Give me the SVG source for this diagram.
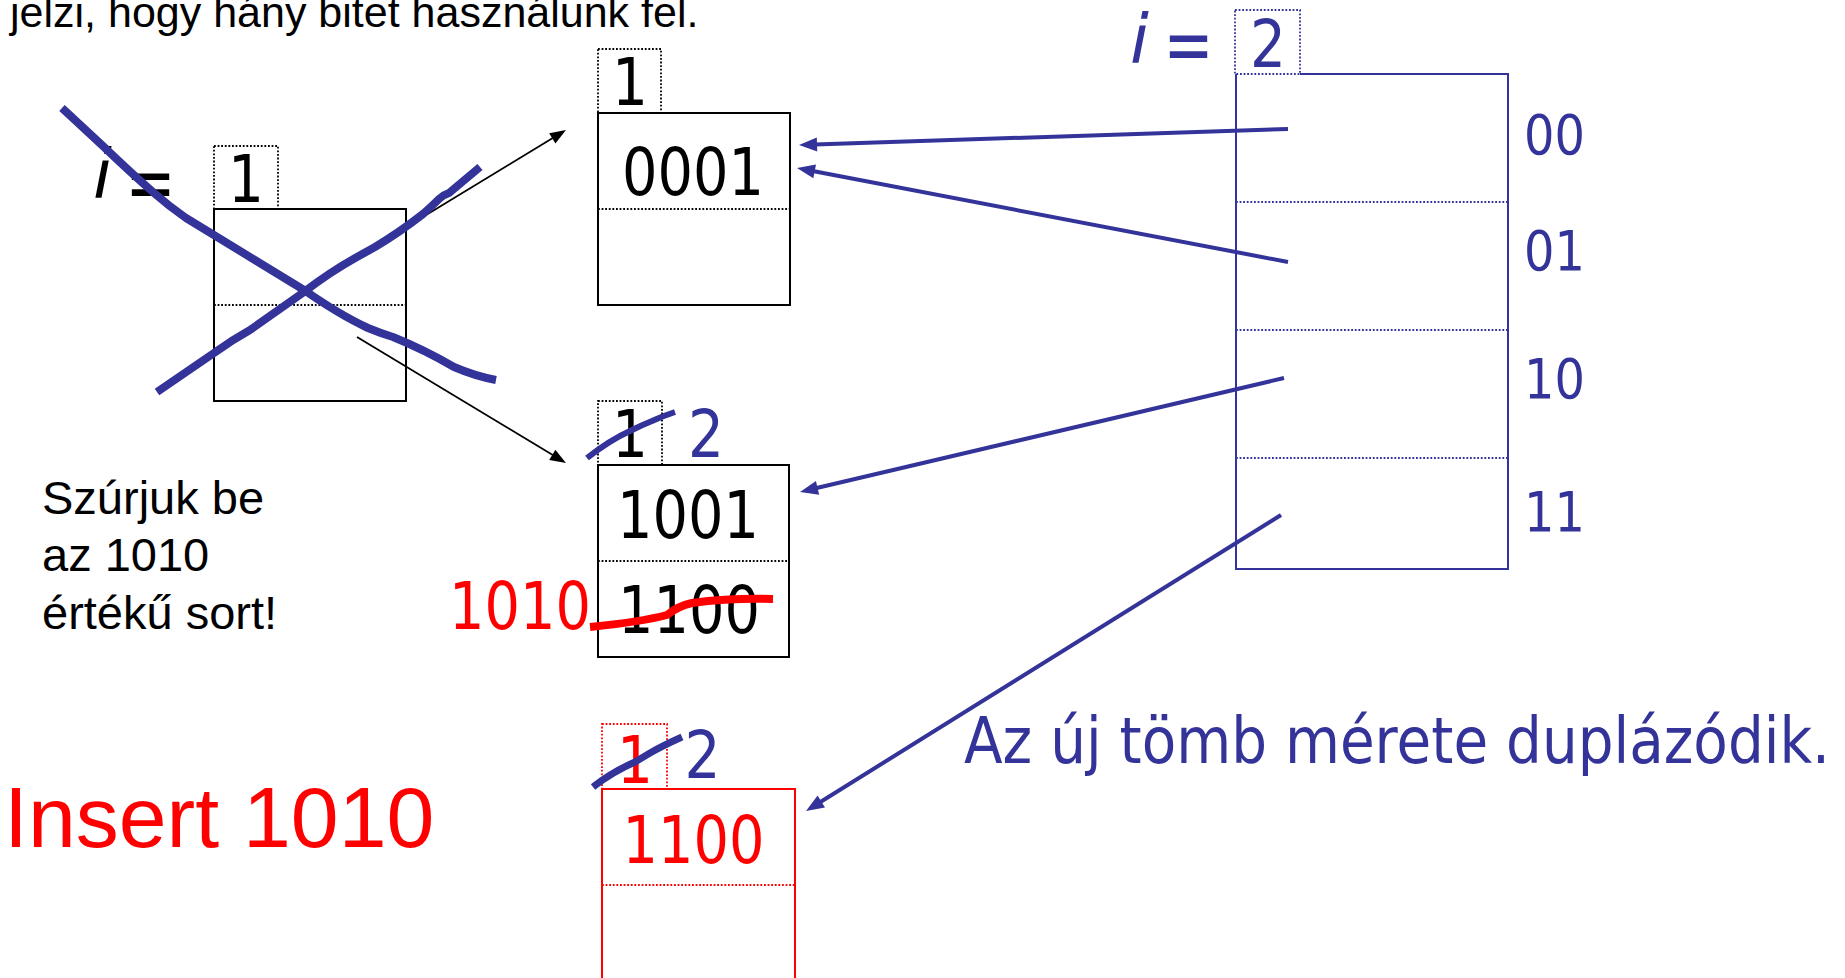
<svg xmlns="http://www.w3.org/2000/svg" width="1845" height="978" viewBox="0 0 1845 978">
<style>
.t{font-family:"DejaVu Sans",Verdana,sans-serif;}
.a{font-family:"Liberation Sans",Arial,sans-serif;}
.k{fill:#000}
.b{fill:#333399}
.r{fill:#ff0000}
.box{fill:none;stroke:#000;stroke-width:2}
.dot{fill:none;stroke:#000;stroke-width:1.8;stroke-dasharray:1.8 1.8}
.bbox{fill:none;stroke:#333399;stroke-width:2}
.bdot{fill:none;stroke:#333399;stroke-width:1.8;stroke-dasharray:1.8 1.8}
.rbox{fill:none;stroke:#ff0000;stroke-width:2}
.rdot{fill:none;stroke:#ff0000;stroke-width:1.8;stroke-dasharray:1.8 1.8}
.ba{stroke:#333399;stroke-width:4;fill:none;marker-end:url(#bh)}
.ka{stroke:#000;stroke-width:1.8;fill:none;marker-end:url(#kh)}
.bs{fill:none;stroke:#333399;stroke-linecap:butt;stroke-linejoin:round}
.rs{fill:none;stroke:#ff0000;stroke-width:8;stroke-linecap:butt;stroke-linejoin:round}
</style>
<defs>
<marker id="bh" markerUnits="userSpaceOnUse" markerWidth="18" markerHeight="14" refX="2" refY="7" orient="auto" overflow="visible"><path d="M0,0 L18,7 L0,14 z" fill="#333399"/></marker>
<marker id="kh" markerUnits="userSpaceOnUse" markerWidth="16" markerHeight="12" refX="2" refY="6" orient="auto" overflow="visible"><path d="M0,0 L16,6 L0,12 z" fill="#000"/></marker>
</defs>

<g id="top-note">
<text class="a k" x="10" y="27" font-size="43">jelzi, hogy hány bitet használunk fel.</text>
</g>

<g id="old-bucket">
<text class="t k" x="93" y="198" font-size="68" font-style="italic">i</text>
<text class="t k" x="150.5" y="209.5" font-size="80" text-anchor="middle" textLength="50" lengthAdjust="spacingAndGlyphs">=</text>
<rect class="dot" x="214" y="146" width="64" height="63"/>
<text class="t k" x="246" y="202" font-size="65" text-anchor="middle" textLength="36" lengthAdjust="spacingAndGlyphs">1</text>
<rect class="box" x="214" y="209" width="192" height="192"/>
<line class="dot" x1="214" y1="305" x2="406" y2="305"/>
</g>

<g id="bucket-0001">
<rect class="dot" x="598" y="49" width="63" height="64"/>
<text class="t k" x="630" y="105" font-size="65" text-anchor="middle" textLength="36" lengthAdjust="spacingAndGlyphs">1</text>
<rect class="box" x="598" y="113" width="192" height="192"/>
<line class="dot" x1="598" y1="209" x2="790" y2="209"/>
<text class="t k" x="693" y="195" font-size="65" text-anchor="middle" textLength="142" lengthAdjust="spacingAndGlyphs">0001</text>
</g>

<g id="bucket-1001">
<rect class="dot" x="598" y="401" width="64" height="64"/>
<text class="t k" x="630" y="457" font-size="65" text-anchor="middle" textLength="36" lengthAdjust="spacingAndGlyphs">1</text>
<text class="t b" x="706" y="457" font-size="65" text-anchor="middle" textLength="36" lengthAdjust="spacingAndGlyphs">2</text>
<rect class="box" x="598" y="465" width="191" height="192"/>
<line class="dot" x1="598" y1="561" x2="789" y2="561"/>
<text class="t k" x="688" y="538" font-size="65" text-anchor="middle" textLength="142" lengthAdjust="spacingAndGlyphs">1001</text>
<text class="t k" x="689" y="633" font-size="65" text-anchor="middle" textLength="142" lengthAdjust="spacingAndGlyphs">1100</text>
<text class="t r" x="520" y="629" font-size="65" text-anchor="middle" textLength="142" lengthAdjust="spacingAndGlyphs">1010</text>
<path class="bs" stroke-width="6" d="M587,458 Q610,440 630,431 Q642,425 652,421 Q663,416 675,412"/>
<path class="rs" d="M590,627 Q640,622 667,615 Q678,606 692,603 Q730,598 773,599"/>
</g>

<g id="bucket-1100-new">
<rect class="rdot" x="602" y="724" width="65" height="65"/>
<text class="t r" x="635" y="783" font-size="65" text-anchor="middle" textLength="36" lengthAdjust="spacingAndGlyphs">1</text>
<text class="t b" x="702.5" y="778" font-size="65" text-anchor="middle" textLength="36" lengthAdjust="spacingAndGlyphs">2</text>
<rect class="rbox" x="602" y="789" width="193" height="210"/>
<line class="rdot" x1="602" y1="885" x2="795" y2="885"/>
<text class="t r" x="693.5" y="863" font-size="65" text-anchor="middle" textLength="142" lengthAdjust="spacingAndGlyphs">1100</text>
<path class="bs" stroke-width="7" d="M593,787 Q612,772 635,762 Q645,756 650,753 Q662,746 682,737"/>
</g>

<g id="directory">
<text class="t b" x="1130" y="63" font-size="68" font-style="italic">i</text>
<text class="t b" x="1188.5" y="72" font-size="80" text-anchor="middle" textLength="50" lengthAdjust="spacingAndGlyphs">=</text>
<rect class="bdot" x="1235" y="10" width="65" height="64"/>
<text class="t b" x="1268" y="67" font-size="65" text-anchor="middle" textLength="36" lengthAdjust="spacingAndGlyphs">2</text>
<path class="bbox" d="M1300,74 H1508 V569 H1236 V74"/>
<line class="bdot" x1="1236" y1="202" x2="1508" y2="202"/>
<line class="bdot" x1="1236" y1="330" x2="1508" y2="330"/>
<line class="bdot" x1="1236" y1="458" x2="1508" y2="458"/>
<text class="t b" x="1524" y="154" font-size="56" textLength="61" lengthAdjust="spacingAndGlyphs">00</text>
<text class="t b" x="1524" y="270" font-size="56" textLength="61" lengthAdjust="spacingAndGlyphs">01</text>
<text class="t b" x="1524" y="398" font-size="56" textLength="61" lengthAdjust="spacingAndGlyphs">10</text>
<text class="t b" x="1524" y="531" font-size="56" textLength="61" lengthAdjust="spacingAndGlyphs">11</text>
</g>

<g id="notes">
<text class="a k" x="42" y="514" font-size="47">Szúrjuk be</text>
<text class="a k" x="42" y="571" font-size="47">az 1010</text>
<text class="a k" x="42" y="629" font-size="47">értékű sort!</text>
<text class="a r" x="4" y="847" font-size="86">Insert 1010</text>
<text class="t b" x="964" y="763" font-size="64" textLength="866" lengthAdjust="spacingAndGlyphs">Az új tömb mérete duplázódik.</text>
</g>

<g id="connectors">
<line class="ka" x1="385" y1="240" x2="554" y2="137.3"/>
<line class="ka" x1="357" y1="337" x2="554" y2="455.8"/>
<line class="ba" x1="1288" y1="129" x2="815" y2="144.5"/>
<line class="ba" x1="1288" y1="262" x2="812.7" y2="171"/>
<line class="ba" x1="1284" y1="378" x2="815.6" y2="488.3"/>
<line class="ba" x1="1281" y1="515" x2="819.6" y2="802.5"/>
</g>

<g id="cross-out">
<path class="bs" stroke-width="8" d="M62,108 L104,147 Q130,172 154,193 Q170,207 186,218 L304,290 Q340,315 368,328 Q380,333 393,337 Q425,350 454,367 Q475,376 496,380"/>
<path class="bs" stroke-width="8" d="M157,392 L214,353 Q232,340 250,330 L304,292 Q330,272 357,257 L375,247 Q400,232 423,214 Q433,205 439,199 Q443,195 449,193 L480,167"/>
</g>
</svg>
